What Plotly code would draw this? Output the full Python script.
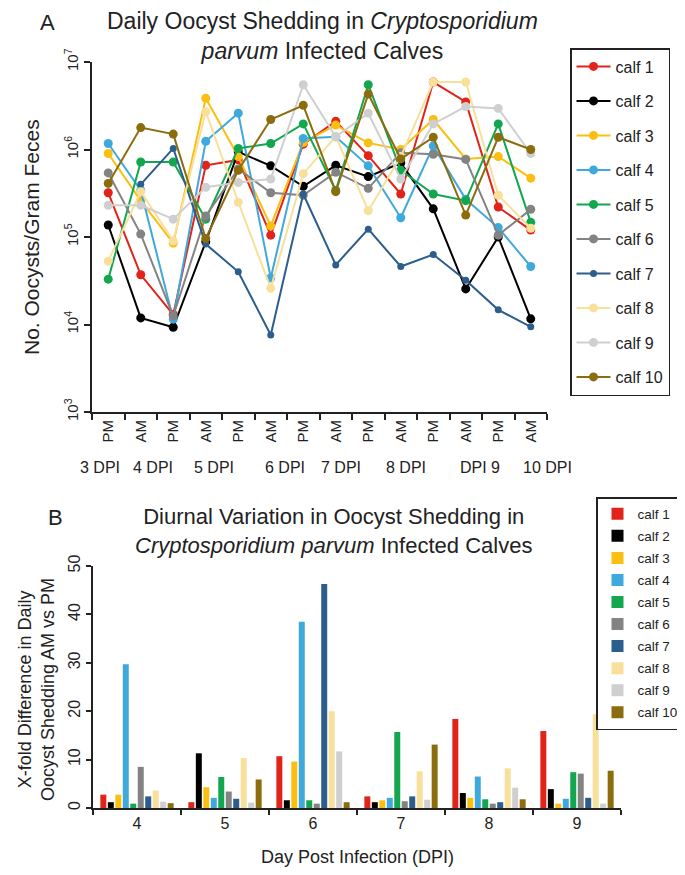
import plotly.graph_objects as go

# ---------------- data ----------------
calves = ["calf 1", "calf 2", "calf 3", "calf 4", "calf 5",
          "calf 6", "calf 7", "calf 8", "calf 9", "calf 10"]
colors = ["#E2231A", "#000000", "#FBBF13", "#3FA9DC", "#12A74F",
          "#838383", "#2C5E8D", "#F8E09A", "#CFCFCF", "#8B6D0E"]

# panel A: time points (PM/AM sampling)
timepoint_labels = ["PM", "AM", "PM", "AM", "PM", "AM", "PM",
                    "AM", "PM", "AM", "PM", "AM", "PM", "AM"]
day_labels = ["3 DPI", "4 DPI", "5 DPI", "6 DPI", "7 DPI", "8 DPI", "DPI 9", "10 DPI"]

calf1 = [3.2e5, 3.7e4, 1.3e4, 6.6e5, 7.6e5, 1.05e5, 1.15e6, 2.1e6, 8.5e5, 3.1e5, 5.9e6, 3.5e6, 2.2e5, 1.2e5]
calf2 = [1.37e5, 1.19e4, 9.3e3, 8.8e4, 9.4e5, 6.5e5, 3.8e5, 6.6e5, 4.9e5, 7.0e5, 2.1e5, 2.55e4, 1.0e5, 1.16e4]
calf3 = [9.0e5, 2.6e5, 8.5e4, 3.85e6, 8.3e5, 1.34e5, 1.2e6, 1.9e6, 1.19e6, 1.0e6, 2.2e6, 7.8e5, 8.3e5, 4.7e5]
calf4 = [1.17e6, 3.4e5, 1.15e4, 1.24e6, 2.6e6, 3.4e4, 1.34e6, 1.4e6, 6.5e5, 1.66e5, 1.1e6, 2.7e5, 1.28e5, 4.6e4]
calf5 = [3.3e4, 7.2e5, 7.2e5, 1.6e5, 1.03e6, 1.17e6, 1.96e6, 3.4e5, 5.5e6, 5.8e5, 3.1e5, 2.6e5, 1.96e6, 1.47e5]
calf6 = [5.4e5, 1.08e5, 1.25e4, 1.74e5, 6.0e5, 3.2e5, 3.0e5, 5.5e5, 3.6e5, 9.2e5, 8.8e5, 7.7e5, 1.05e5, 2.07e5]
calf7 = [None, 4.0e5, 1.03e6, 8.3e4, 4.0e4, 7.6e3, 3.1e5, 4.8e4, 1.23e5, 4.6e4, 6.3e4, 3.2e4, 1.47e4, 9.4e3]
calf8 = [5.3e4, 3.3e5, 9.0e4, 2.7e6, 2.5e5, 2.6e4, 5.3e5, 1.4e6, 2.0e5, 8.3e5, 5.9e6, 5.9e6, 3.0e5, 1.26e5]
calf9 = [2.3e5, 2.3e5, 1.6e5, 3.7e5, 4.2e5, 4.6e5, 5.5e6, 1.4e6, 2.6e6, 4.6e5, 1.96e6, 3.1e6, 2.95e6, 9.0e5]
calf10 = [4.1e5, 1.78e6, 1.5e6, 9.6e4, 5.8e5, 2.2e6, 3.2e6, 3.3e5, 4.3e6, 7.8e5, 1.38e6, 1.78e5, 1.38e6, 1.0e6]
shedding = [calf1, calf2, calf3, calf4, calf5, calf6, calf7, calf8, calf9, calf10]

# panel B: x-fold difference AM vs PM per day
dpi_days = ["4", "5", "6", "7", "8", "9"]
fold_calf1 = [2.75, 1.2, 10.7, 2.4, 18.4, 15.9]
fold_calf2 = [1.2, 11.3, 1.6, 1.2, 3.1, 3.9]
fold_calf3 = [2.75, 4.3, 9.6, 1.6, 2.1, 0.9]
fold_calf4 = [29.7, 2.1, 38.5, 2.1, 6.5, 1.9]
fold_calf5 = [0.9, 6.4, 1.6, 15.7, 1.8, 7.4]
fold_calf6 = [8.5, 3.4, 0.9, 1.4, 0.9, 7.1]
fold_calf7 = [2.4, 1.9, 46.3, 2.4, 1.2, 2.1]
fold_calf8 = [3.6, 10.3, 20.0, 7.6, 8.2, 19.4]
fold_calf9 = [1.3, 1.1, 11.7, 1.7, 4.2, 0.9]
fold_calf10 = [1.0, 5.9, 1.2, 13.1, 1.8, 7.7]
fold = [fold_calf1, fold_calf2, fold_calf3, fold_calf4, fold_calf5,
        fold_calf6, fold_calf7, fold_calf8, fold_calf9, fold_calf10]

# ---------------- layout helpers ----------------
# the page body has an 8px margin, so the figure starts at (8, 8) in the window
OFF = 8
W, H = 685 - OFF, 875 - 2 * OFF
FONT = "Arial, Liberation Sans, sans-serif"


def px_x(p):
    return (p - OFF) / W


def px_y(p):
    return 1 - (p - OFF) / H


day_label_pos = [-0.25, 1.37, 3.25, 5.45, 7.15, 9.15, 11.43, 13.5]

fig = go.Figure()

idx = list(range(len(timepoint_labels)))
for i, (name, vals) in enumerate(zip(calves, shedding)):
    msize = 7 if name == "calf 7" else 9
    fig.add_trace(go.Scatter(
        x=idx, y=vals, mode="lines+markers", name=name,
        line=dict(color=colors[i], width=2),
        marker=dict(color=colors[i], size=msize),
        xaxis="x", yaxis="y", legend="legend", legendgroup=f"a{i}",
        connectgaps=False,
    ))

for i, (name, vals) in enumerate(zip(calves, fold)):
    fig.add_trace(go.Bar(
        x=dpi_days, y=vals, name=name, marker=dict(color=colors[i], line=dict(width=0)),
        xaxis="x2", yaxis="y2", legend="legend2", legendgroup=f"b{i}",
    ))

axis_common = dict(showline=True, linecolor="#222", linewidth=2, showgrid=False,
                   zeroline=False, tickcolor="#222", automargin=False)

fig.update_layout(
    width=W, height=H,
    margin=dict(l=0, r=0, t=0, b=0, pad=0, autoexpand=False),
    paper_bgcolor="white", plot_bgcolor="white",
    font=dict(family=FONT, color="#222"),
    barmode="group", bargap=0.15, bargroupgap=0.2,
    xaxis=dict(
        domain=[px_x(92), px_x(547)], anchor="y",
        range=[-0.5, 13.5], tickmode="array", tickvals=idx, ticktext=timepoint_labels,
        ticks="", tickangle=-90,
        minor=dict(tickmode="array", tickvals=[k - 0.5 for k in range(15)],
                   ticks="outside", ticklen=6, tickwidth=1.5, tickcolor="#222"),
        tickfont=dict(family=FONT, size=15, color="#222"),
        **axis_common,
    ),
    yaxis=dict(
        domain=[px_y(412), px_y(62)], anchor="x",
        type="log", range=[3, 7],
        tickmode="array", tickvals=[1e3, 1e4, 1e5, 1e6, 1e7],
        ticktext=["10<sup>3</sup>", "10<sup>4</sup>", "10<sup>5</sup>", "10<sup>6</sup>", "10<sup>7</sup>"],
        ticks="outside", ticklen=6, tickwidth=1.5, tickangle=-90,
        tickfont=dict(family=FONT, size=15, color="#222"),
        **axis_common,
    ),
    xaxis2=dict(
        domain=[px_x(93), px_x(621)], anchor="y2", type="category",
        tickson="boundaries", ticks="outside", ticklen=5, tickwidth=1.5,
        tickfont=dict(family=FONT, size=16, color="#222"),
        **axis_common,
    ),
    yaxis2=dict(
        domain=[px_y(808), px_y(566)], anchor="x2",
        range=[0, 50], tickvals=[0, 10, 20, 30, 40, 50],
        ticks="outside", ticklen=5, tickwidth=1.5, tickangle=-90,
        tickfont=dict(family=FONT, size=16, color="#222"),
        **axis_common,
    ),
    legend=dict(
        x=px_x(570), y=px_y(48), xanchor="left", yanchor="top",
        bordercolor="#222", borderwidth=1.5, bgcolor="white",
        font=dict(family=FONT, size=16, color="#222"),
        tracegroupgap=10.7, itemwidth=34,
    ),
    legend2=dict(
        x=px_x(684), y=px_y(497), xanchor="right", yanchor="top",
        bordercolor="#222", borderwidth=1.5, bgcolor="white",
        font=dict(family=FONT, size=13.5, color="#222"),
        tracegroupgap=1.5, itemwidth=30,
    ),
    showlegend=True,
)

ann = []
ann.append(dict(text="A", x=px_x(47), y=px_y(22), xref="paper", yref="paper",
                showarrow=False, font=dict(size=22), xanchor="center", yanchor="middle"))
ann.append(dict(text="Daily Oocyst Shedding in <i>Cryptosporidium</i><br><i>parvum</i> Infected Calves",
                x=px_x(322), y=px_y(36), xref="paper", yref="paper", showarrow=False,
                font=dict(size=23), xanchor="center", yanchor="middle"))
ann.append(dict(text="No. Oocysts/Gram Feces", x=px_x(31), y=px_y(237), xref="paper", yref="paper",
                showarrow=False, textangle=-90, font=dict(size=21), xanchor="center", yanchor="middle"))
for lbl, pos in zip(day_labels, day_label_pos):
    ann.append(dict(text=lbl, x=pos, y=px_y(467), xref="x", yref="paper", showarrow=False,
                    font=dict(size=16), xanchor="center", yanchor="middle"))
ann.append(dict(text="B", x=px_x(55), y=px_y(517), xref="paper", yref="paper",
                showarrow=False, font=dict(size=22), xanchor="center", yanchor="middle"))
ann.append(dict(text="Diurnal Variation in Oocyst Shedding in<br><i>Cryptosporidium parvum</i> Infected Calves",
                x=px_x(333), y=px_y(531), xref="paper", yref="paper", showarrow=False,
                font=dict(size=22), xanchor="center", yanchor="middle"))
ann.append(dict(text="X-fold Difference in Daily<br>Oocyst Shedding AM vs PM", x=px_x(36), y=px_y(690),
                xref="paper", yref="paper", showarrow=False, textangle=-90,
                font=dict(size=18), xanchor="center", yanchor="middle"))
ann.append(dict(text="Day Post Infection (DPI)", x=px_x(357), y=px_y(857), xref="paper", yref="paper",
                showarrow=False, font=dict(size=18), xanchor="center", yanchor="middle"))
fig.update_layout(annotations=ann)

fig.write_html("out.html")
